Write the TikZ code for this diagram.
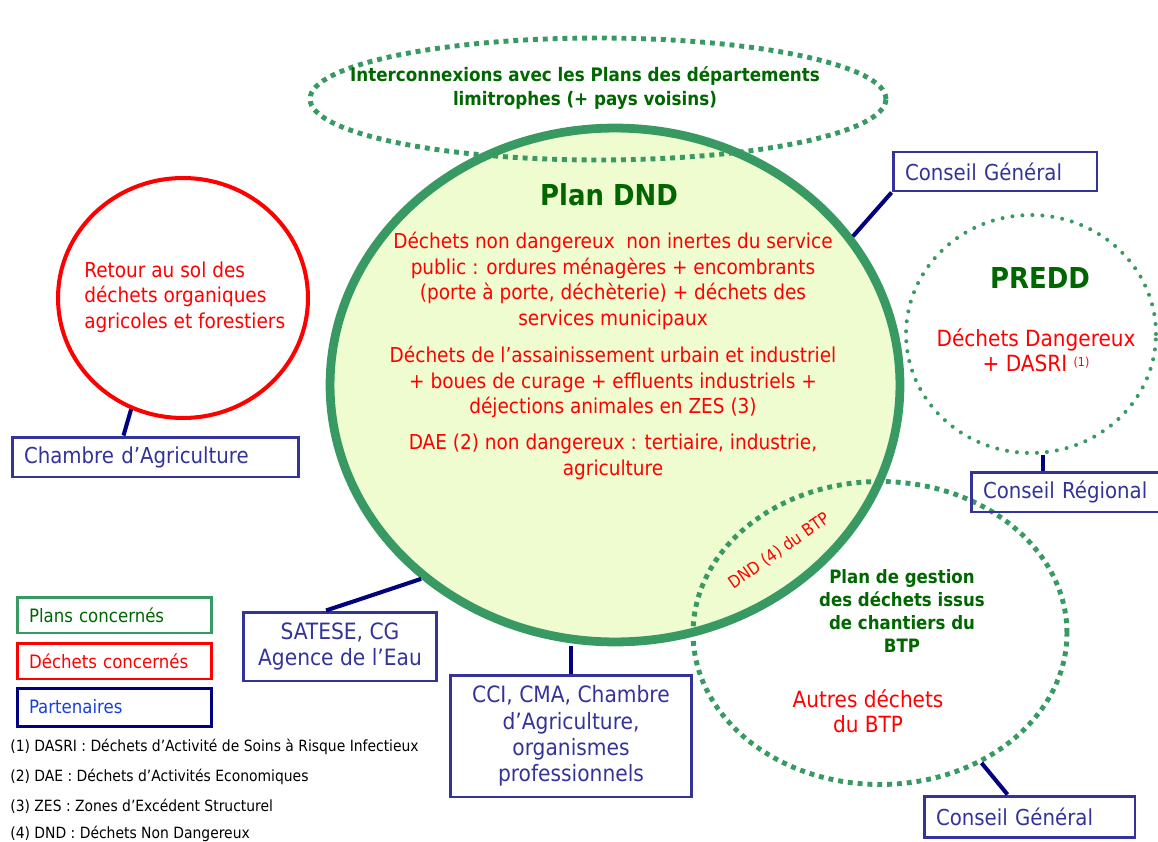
\documentclass[tikz,border=0pt]{standalone}
\usepackage{fontspec}
\setmainfont{DejaVu Sans Condensed}
\usetikzlibrary{shapes.geometric}

\definecolor{plangreen}{RGB}{56,154,98}
\definecolor{titlegreen}{RGB}{0,102,0}
\definecolor{dndfill}{RGB}{238,252,208}
\definecolor{partblue}{RGB}{51,51,153}
\definecolor{linkblue}{RGB}{0,0,128}
\definecolor{legblue}{RGB}{25,65,215}

\tikzset{
  redtxt/.style={text=red,align=center,font=\fontsize{11.7pt}{14.5pt}\selectfont},
  greentxt/.style={text=titlegreen,align=center,font=\bfseries\fontsize{10.6pt}{13.4pt}\selectfont},
  bigtitle/.style={text=titlegreen,font=\bfseries\fontsize{16.4pt}{18pt}\selectfont},
  partbox/.style={draw=partblue,line width=1.7pt,text=partblue,inner ysep=0pt,inner xsep=0.24cm,
    align=left,font=\fontsize{12.5pt}{14.5pt}\selectfont},
  partmid/.style={draw=partblue,line width=1.7pt,text=partblue,inner sep=0pt,align=center,
    font=\fontsize{12.8pt}{14.9pt}\selectfont},
  legbox/.style={line width=1.7pt,inner ysep=0pt,inner xsep=0.24cm,text width=3.42cm,
    minimum height=0.72cm,align=left,font=\fontsize{10.5pt}{12pt}\selectfont},
  dots/.style={draw=plangreen,line width=2.8pt,dash pattern=on 2.8pt off 2.8pt},
  rounddots/.style={draw=plangreen,line width=2.3pt,line cap=round,dash pattern=on 0pt off 5.7pt},
  link/.style={linkblue,line width=2.3pt},
  note/.style={anchor=west,inner sep=0pt,font=\fontsize{8.8pt}{10pt}\selectfont}
}

\begin{document}
\begin{tikzpicture}[x=0.02cm,y=-0.02cm]
\useasboundingbox (0,0) rectangle (1158,841);

\node[ellipse,draw=plangreen,line width=5pt,fill=dndfill,inner sep=0pt,
  minimum width=11.4cm,minimum height=10.28cm] (dnd) at (615,385) {};
\node[ellipse,dots,inner sep=0pt,minimum width=7.48cm,minimum height=6.06cm] (btp) at (880,633) {};
\node[ellipse,dots,inner sep=0pt,minimum width=11.52cm,minimum height=2.44cm] (inter) at (598,99) {};
\node[ellipse,rounddots,inner sep=0pt,minimum width=5cm,minimum height=4.76cm] (predd) at (1031,334) {};
\node[ellipse,draw=red,line width=2.3pt,inner sep=0pt,minimum width=5cm,minimum height=4.8cm] (retour) at (183,298) {};

\node[greentxt] (intertxt) at (585,88) {Interconnexions avec les Plans des départements\\limitrophes (+ pays voisins)};
\node[bigtitle] (plandnd) at (609,195) {Plan DND};
\node[redtxt] (dnda) at (613,281) {Déchets non dangereux\ \ non inertes du service\\public : ordures ménagères + encombrants\\(porte à porte, déchèterie) + déchets des\\services municipaux};
\node[redtxt] (dndb) at (613,382) {Déchets de l’assainissement urbain et industriel\\+ boues de curage + effluents industriels +\\déjections animales en ZES (3)};
\node[redtxt] (dndc) at (613,457) {DAE (2) non dangereux : tertiaire, industrie,\\agriculture};

\node[redtxt,anchor=west,align=left,inner sep=0pt] (retourtxt) at (84,297) {Retour au sol des\\déchets organiques\\agricoles et forestiers};

\node[bigtitle] (preddtitle) at (1040,278) {PREDD};
\node[redtxt,font=\fontsize{12.7pt}{14.5pt}\selectfont] (predddesc) at (1036,350) {Déchets Dangereux\\+ DASRI {\fontsize{7pt}{7pt}\selectfont\raisebox{0.8ex}{(1)}}};

\node[greentxt,font=\bfseries\fontsize{10.5pt}{13pt}\selectfont] (btptitle) at (902,611) {Plan de gestion\\des déchets issus\\de chantiers du\\BTP};
\node[redtxt,font=\fontsize{12.7pt}{14.5pt}\selectfont] (btpdesc) at (868,711) {Autres déchets\\du BTP};
\node[redtxt,rotate=35,font=\fontsize{9.6pt}{12pt}\selectfont] (btpdnd) at (779,551) {DND (4) du BTP};

\node[partbox,text width=3.6cm,minimum height=0.78cm] (cgh) at (995,171.5) {Conseil Général};
\node[partbox,text width=5.26cm,minimum height=0.8cm] (cda) at (155.5,457) {Chambre d’Agriculture};
\node[partbox,text width=3.4cm,minimum height=0.8cm] (cr) at (1068,492) {Conseil Régional};
\node[partbox,text width=3.74cm,minimum height=0.82cm] (cgb) at (1029.5,816.5) {Conseil Général};
\node[partmid,minimum width=3.88cm,minimum height=1.38cm] (satese) at (340,646.5) {SATESE, CG\\Agence de l’Eau};
\node[partmid,minimum width=4.84cm,minimum height=2.44cm] (cci) at (571,736) {CCI, CMA, Chambre\\d’Agriculture,\\organismes\\professionnels};

\draw[link] (cgh.south west) -- (dnd.32);
\draw[link] ([xshift=-0.28cm]satese.north) -- (dnd.225);
\draw[link] (cci.north) -- (cci.north |- dnd.south);
\draw[link] ([xshift=-0.64cm]cda.north) -- (retour.245);
\draw[link] ([xshift=-0.5cm]cr.north) -- ([xshift=-0.5cm]cr.north |- predd.south);
\draw[link] ([xshift=-0.44cm]cgb.north) -- (btp.308);

\node[legbox,draw=plangreen,text=titlegreen] (legplan) at (114.5,615) {Plans concernés};
\node[legbox,draw=red,text=red] (legdech) at (114.5,661) {Déchets concernés};
\node[legbox,draw=linkblue,text=legblue,minimum height=0.76cm] (legpart) at (114.5,707) {Partenaires};

\node[note] (noteone) at (10,747) {(1) DASRI : Déchets d’Activité de Soins à Risque Infectieux};
\node[note] (notetwo) at (10,777) {(2) DAE : Déchets d’Activités Economiques};
\node[note] (notethree) at (10,806) {(3) ZES : Zones d’Excédent Structurel};
\node[note] (notefour) at (10,834) {(4) DND : Déchets Non Dangereux};
\end{tikzpicture}
\end{document}
